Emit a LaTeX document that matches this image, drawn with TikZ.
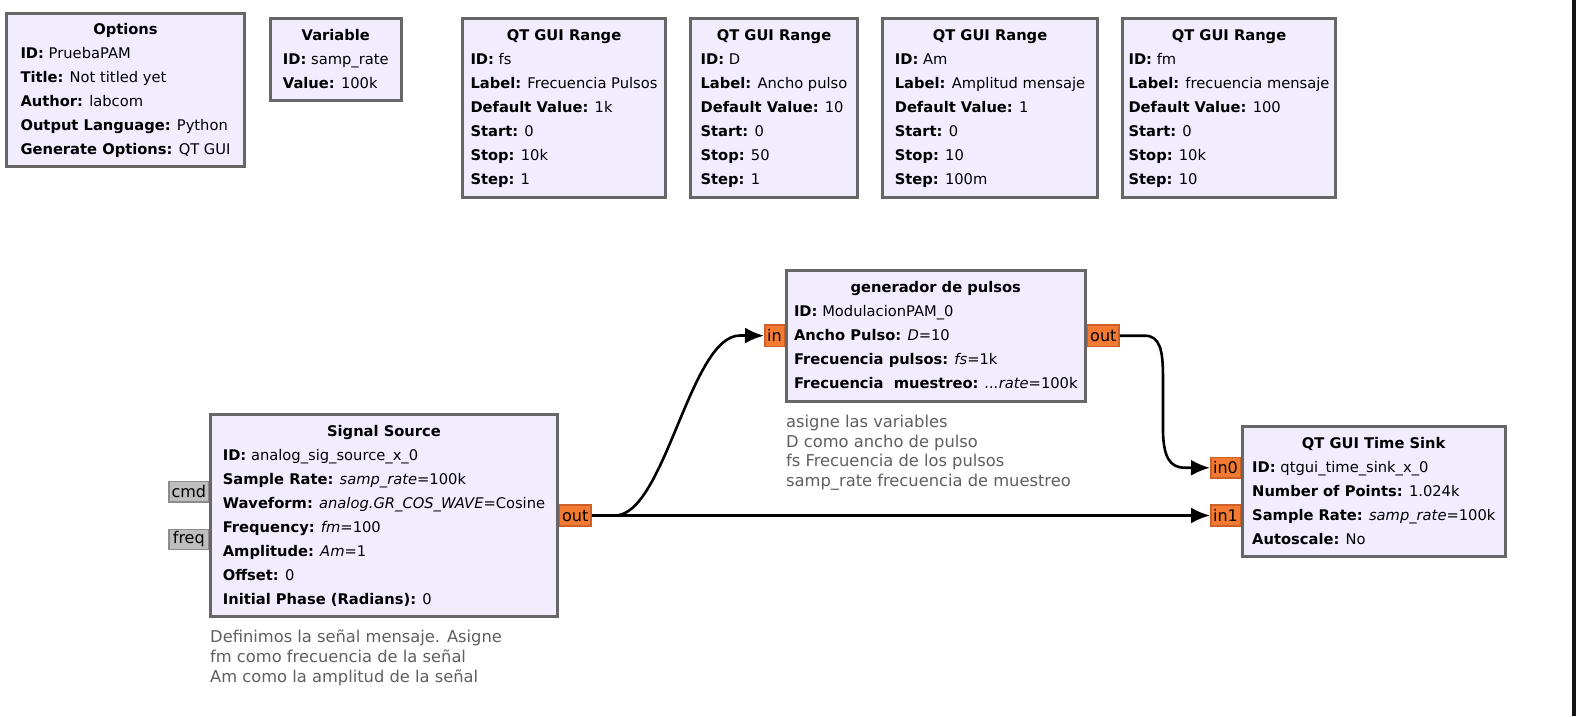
\documentclass[tikz,border=0pt]{standalone}
\usepackage{fontspec}
\setmainfont{DejaVu Sans}
\usetikzlibrary{arrows.meta}

\definecolor{blockfill}{RGB}{241,237,255}
\definecolor{blockedge}{RGB}{102,102,102}
\definecolor{portfill}{RGB}{242,122,50}
\definecolor{portedge}{RGB}{205,95,40}
\definecolor{msgfill}{RGB}{190,190,190}
\definecolor{msgedge}{RGB}{140,140,140}
\definecolor{notegray}{RGB}{95,95,95}
\definecolor{edgebar}{RGB}{20,20,20}

\newcommand{\bodyfont}{\fontsize{14.7}{24}\selectfont\setbox\strutbox\hbox{\vrule height16.8pt depth7.2pt width0pt}}
\newcommand{\notefont}{\fontsize{16.3}{19.6}\selectfont}
\newcommand{\portfont}{\fontsize{16}{18}\selectfont}

\tikzset{
  block/.style={draw=blockedge, fill=blockfill, line width=3pt, inner sep=0pt, font=\bodyfont},
  port/.style={draw=portedge, fill=portfill, line width=1.5pt, inner sep=0pt, font=\portfont},
  msgport/.style={port, draw=msgedge, fill=msgfill},
  note/.style={anchor=north west, inner sep=0pt, align=left, text=notegray, font=\notefont},
  wire/.style={line width=2.6pt, -{Latex[length=19pt,width=16pt]}},
}

\begin{document}
\begin{tikzpicture}[x=1pt,y=-1pt]
    \fill[white] (0,0) rectangle (1576,716);
    \fill[edgebar] (1572,0) rectangle (1576,716);

    % variables
    \node[block, minimum width=238, minimum height=153.6] (opt) at (125.5,90) {\begin{tabular}{@{}l@{}}
        \multicolumn{1}{@{}c@{}}{\textbf{Options}}\\
        \textbf{ID:} PruebaPAM\\
        \textbf{Title:} Not titled yet\\
        \textbf{Author:} labcom\\
        \textbf{Output Language:} Python\\
        \textbf{Generate Options:} QT GUI
    \end{tabular}};
    \node[block, minimum width=130.4, minimum height=82] (var) at (335.8,59.8) {\begin{tabular}{@{}l@{}}
        \multicolumn{1}{@{}c@{}}{\textbf{Variable}}\\
        \textbf{ID:} samp\_rate\\
        \textbf{Value:} 100k
    \end{tabular}};
    \node[block, minimum width=203, minimum height=179] (rangefs) at (564,108) {\begin{tabular}{@{}l@{}}
        \multicolumn{1}{@{}c@{}}{\textbf{QT GUI Range}}\\
        \textbf{ID:} fs\\
        \textbf{Label:} Frecuencia Pulsos\\
        \textbf{Default Value:} 1k\\
        \textbf{Start:} 0\\
        \textbf{Stop:} 10k\\
        \textbf{Step:} 1
    \end{tabular}};
    \node[block, minimum width=167, minimum height=179] (ranged) at (774,108) {\begin{tabular}{@{}l@{}}
        \multicolumn{1}{@{}c@{}}{\textbf{QT GUI Range}}\\
        \textbf{ID:} D\\
        \textbf{Label:} Ancho pulso\\
        \textbf{Default Value:} 10\\
        \textbf{Start:} 0\\
        \textbf{Stop:} 50\\
        \textbf{Step:} 1
    \end{tabular}};
    \node[block, minimum width=215, minimum height=179] (rangeam) at (990,108) {\begin{tabular}{@{}l@{}}
        \multicolumn{1}{@{}c@{}}{\textbf{QT GUI Range}}\\
        \textbf{ID:} Am\\
        \textbf{Label:} Amplitud mensaje\\
        \textbf{Default Value:} 1\\
        \textbf{Start:} 0\\
        \textbf{Stop:} 10\\
        \textbf{Step:} 100m
    \end{tabular}};
    \node[block, minimum width=213, minimum height=179] (rangefm) at (1229,108) {\begin{tabular}{@{}l@{}}
        \multicolumn{1}{@{}c@{}}{\textbf{QT GUI Range}}\\
        \textbf{ID:} fm\\
        \textbf{Label:} frecuencia mensaje\\
        \textbf{Default Value:} 100\\
        \textbf{Start:} 0\\
        \textbf{Stop:} 10k\\
        \textbf{Step:} 10
    \end{tabular}};

    % flow graph
    \node[block, minimum width=346.4, minimum height=202] (src) at (384,515.8) {\begin{tabular}{@{}l@{}}
        \multicolumn{1}{@{}c@{}}{\textbf{Signal Source}}\\
        \textbf{ID:} analog\_sig\_source\_x\_0\\
        \textbf{Sample Rate:} \textit{samp\_rate}=100k\\
        \textbf{Waveform:} \textit{analog.GR\_COS\_WAVE}=Cosine\\
        \textbf{Frequency:} \textit{fm}=100\\
        \textbf{Amplitude:} \textit{Am}=1\\
        \textbf{Offset:} 0\\
        \textbf{Initial Phase (Radians):} 0
    \end{tabular}};
    \node[block, minimum width=298.7, minimum height=130.4] (gen) at (935.8,336) {\begin{tabular}{@{}l@{}}
        \multicolumn{1}{@{}c@{}}{\textbf{generador de pulsos}}\\
        \textbf{ID:} ModulacionPAM\_0\\
        \textbf{Ancho Pulso:} \textit{D}=10\\
        \textbf{Frecuencia pulsos:} \textit{fs}=1k\\
        \textbf{Frecuencia\ \ muestreo:} \textit{...rate}=100k
    \end{tabular}};
    \node[block, minimum width=262.7, minimum height=130.3] (sink) at (1373.8,491.7) {\begin{tabular}{@{}l@{}}
        \multicolumn{1}{@{}c@{}}{\textbf{QT GUI Time Sink}}\\
        \textbf{ID:} qtgui\_time\_sink\_x\_0\\
        \textbf{Number of Points:} 1.024k\\
        \textbf{Sample Rate:} \textit{samp\_rate}=100k\\
        \textbf{Autoscale:} No
    \end{tabular}};

    % ports
    \node[msgport, minimum width=39.5, minimum height=20.2] (cmd) at (188.8,491.8) {cmd};
    \node[msgport, minimum width=39.5, minimum height=20.2] (freq) at (188.8,539.5) {freq};
    \node[port, minimum width=31.8, minimum height=20.9] (srcout) at (575.3,515.5) {out};
    \node[port, minimum width=19.5, minimum height=21.8] (genin) at (774.5,335.7) {in};
    \node[port, minimum width=31.8, minimum height=21.8] (genout) at (1103.3,335.7) {out};
    \node[port, minimum width=29.5, minimum height=20.8] (in0) at (1225.5,467.8) {in0};
    \node[port, minimum width=29.5, minimum height=20.8] (in1) at (1225.5,515.5) {in1};

    % comments
    \node[note] (srcnote) at (210,630) {Definimos la señal mensaje. Asigne\\fm como frecuencia de la señal\\Am como la amplitud de la señal};
    \node[note] (gennote) at (786,415) {asigne las variables\\D como ancho de pulso\\fs Frecuencia de los pulsos\\samp\_rate frecuencia de muestreo};

    % connections
    \draw[wire] (srcout.east) -- ++(23,0) .. controls +(50,0) and +(-50,0) .. ++(125,-180) -- (genin.west);
    \draw[wire] (srcout.east) -- (in1.west);
    \draw[wire] (genout.east) -- ++(25,0) .. controls +(15,0) and +(0,-25) .. ++(18,40) -- ++(0,52) .. controls +(0,30) and +(-15,0) .. ++(22,40) -- (in0.west);
\end{tikzpicture}
\end{document}
